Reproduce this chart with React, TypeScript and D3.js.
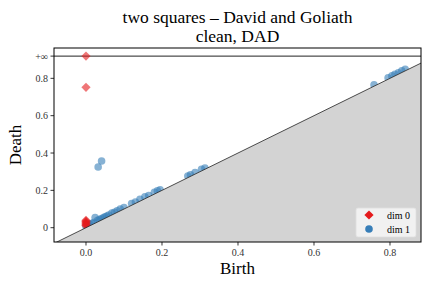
import React from "react";
import * as d3 from "d3";

const W = 432;
const H = 288;
const INF_LEVEL = 0.919;

const dim0Birth = [0, 0, 0, 0, 0, 0, 0, 0, 0];
const dim0Death = [Infinity, 0.752, 0.04, 0.035, 0.03, 0.025, 0.02, 0.015, 0.01];

const dim1Birth = [0.032, 0.041, 0.024, 0.0, 0.005, 0.01, 0.015, 0.02, 0.03, 0.035, 0.04, 0.045, 0.05, 0.055, 0.06, 0.068, 0.075, 0.082, 0.09, 0.1, 0.12, 0.13, 0.142, 0.155, 0.165, 0.18, 0.188, 0.195, 0.268, 0.275, 0.287, 0.304, 0.313, 0.758, 0.795, 0.805, 0.813, 0.822, 0.831, 0.84];
const dim1Death = [0.325, 0.357, 0.055, 0.006, 0.012, 0.018, 0.022, 0.028, 0.038, 0.043, 0.048, 0.053, 0.058, 0.063, 0.068, 0.078, 0.083, 0.09, 0.1, 0.108, 0.13, 0.138, 0.152, 0.165, 0.172, 0.19, 0.197, 0.203, 0.277, 0.283, 0.296, 0.313, 0.32, 0.766, 0.803, 0.813, 0.822, 0.83, 0.84, 0.848];

const xTicks = [0, 0.2, 0.4, 0.6, 0.8];
const yTicks = [0, 0.2, 0.4, 0.6, 0.8];
const legendLabels = ["dim 0", "dim 1"];
const colors = ["#e41a1c", "#377eb8"];

const left = 54, right = 421, top = 48, bottom = 242;
const serif = "'Liberation Serif', 'DejaVu Serif', serif";

export default function App() {
  const x = d3.scaleLinear().domain([-0.08421, 0.88158]).range([left, right]);
  const y = d3.scaleLinear().domain([-0.0766, 0.9625]).range([bottom, top]);
  const [x0, x1] = x.domain();
  const diamond = (cx: number, cy: number, r: number) =>
    `M${cx},${cy - r}L${cx + r},${cy}L${cx},${cy + r}L${cx - r},${cy}Z`;
  const fillPts = `${x(x0)},${y(x0)} ${x(x1)},${y(x1)} ${x(x1)},${bottom} ${x(x0)},${bottom}`;
  return (
    <svg width={W} height={H} style={{ position: "absolute", left: 0, top: 0 }} fontFamily={serif}>
      <rect x={0} y={0} width={W} height={H} fill="#fff" />
      <defs>
        <clipPath id="plot">
          <rect x={left} y={top} width={right - left} height={bottom - top} />
        </clipPath>
      </defs>
      <g clipPath="url(#plot)">
        <line x1={left} x2={right} y1={y(INF_LEVEL)} y2={y(INF_LEVEL)} stroke="#222" strokeWidth={1} />
        {dim1Birth.map((b, i) => (
          <circle key={"c" + i} cx={x(b)} cy={y(dim1Death[i])} r={3.8} fill={colors[1]} fillOpacity={0.6} />
        ))}
        {dim0Birth.map((b, i) => {
          const dv = isFinite(dim0Death[i]) ? dim0Death[i] : INF_LEVEL;
          return <path key={"d" + i} d={diamond(x(b), y(dv), 4.6)} fill={colors[0]} fillOpacity={0.6} />;
        })}
        <polygon points={fillPts} fill="#d3d3d3" />
        <line x1={x(x0)} y1={y(x0)} x2={x(x1)} y2={y(x1)} stroke="#222" strokeWidth={0.8} />
      </g>
      <rect x={left} y={top} width={right - left} height={bottom - top} fill="none" stroke="#000" strokeWidth={1} />
      {xTicks.map((t) => (
        <g key={"xt" + t}>
          <line x1={x(t)} x2={x(t)} y1={bottom} y2={bottom + 3.5} stroke="#000" strokeWidth={0.8} />
          <text x={x(t)} y={bottom + 14} fontSize={10} textAnchor="middle" fill="#333">{t.toFixed(1)}</text>
        </g>
      ))}
      {yTicks.map((t) => (
        <g key={"yt" + t}>
          <line x1={left - 3.5} x2={left} y1={y(t)} y2={y(t)} stroke="#000" strokeWidth={0.8} />
          <text x={left - 6} y={y(t) + 3.5} fontSize={10} textAnchor="end" fill="#333">{t === 0 ? "0" : t.toFixed(1)}</text>
        </g>
      ))}
      <line x1={left - 3.5} x2={left} y1={y(INF_LEVEL)} y2={y(INF_LEVEL)} stroke="#000" strokeWidth={0.8} />
      <text x={left - 6} y={y(INF_LEVEL) + 3.5} fontSize={10} textAnchor="end" fill="#333">+∞</text>
      <text x={(left + right) / 2} y={274} fontSize={17} textAnchor="middle" fill="#000">Birth</text>
      <text transform={`translate(21,${(top + bottom) / 2}) rotate(-90)`} fontSize={17} textAnchor="middle" fill="#000">Death</text>
      <text x={(left + right) / 2} y={22.5} fontSize={17.5} textAnchor="middle" fill="#000">two squares – David and Goliath</text>
      <text x={(left + right) / 2} y={42} fontSize={17.5} textAnchor="middle" fill="#000">clean, DAD</text>
      <g>
        <rect x={356} y={208} width={60} height={29} rx={2} fill="#f4f4f4" fillOpacity={0.9} stroke="#e0e0e0" strokeWidth={0.8} />
        <path d={diamond(369, 215, 4.6)} fill={colors[0]} />
        <text x={387} y={218.5} fontSize={10} fill="#000">{legendLabels[0]}</text>
        <circle cx={369} cy={229} r={3.8} fill={colors[1]} />
        <text x={387} y={232.5} fontSize={10} fill="#000">{legendLabels[1]}</text>
      </g>
    </svg>
  );
}
